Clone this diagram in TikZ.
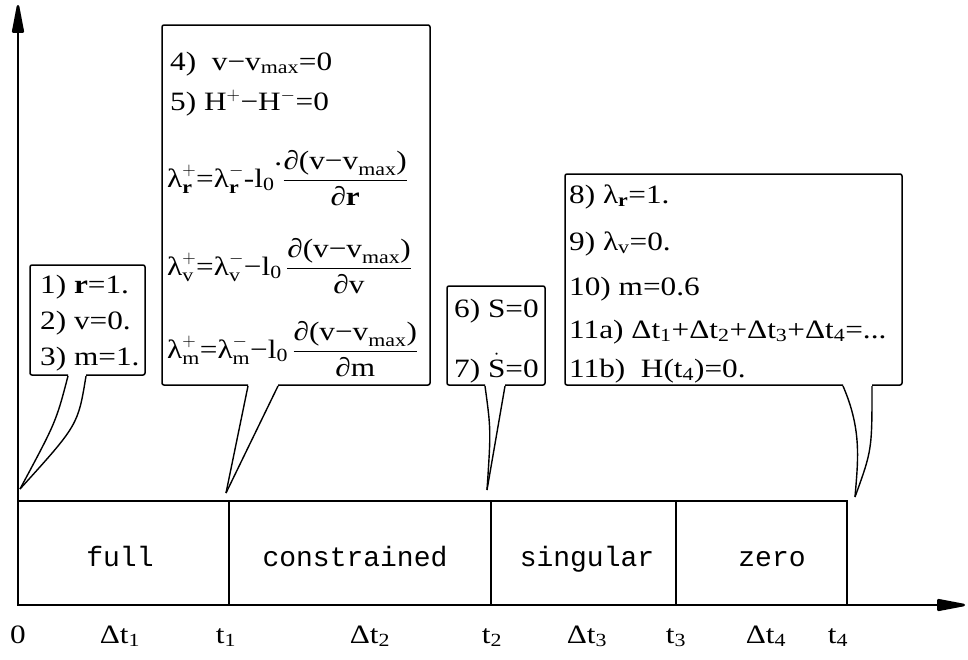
\RequirePackage{fix-cm}
\documentclass[tikz,border=0pt]{standalone}
\usepackage{amsmath}
\usepackage{fontspec}
\setmainfont{Liberation Serif}[FakeStretch=1.18]
\setmonofont{Liberation Mono}
\usetikzlibrary{arrows.meta}
\newcommand\T[1]{\text{#1}}
\newcommand\bfr{\T{\bfseries r}}
\begin{document}
\begin{tikzpicture}[x=1pt,y=-1pt,
  axis/.style={line width=2.6pt,-{Triangle[length=34pt,width=12pt,round]}},
  seg/.style={line width=1.8pt},
  callout/.style={line width=1.5pt,rounded corners=2pt},
  ptr/.style={line width=1.4pt},
  txt/.style={anchor=base west,inner sep=0pt,font=\fontsize{26.5}{30}\selectfont},
  lab/.style={anchor=base,inner sep=0pt,font=\fontsize{26.5}{30}\selectfont},
  mono/.style={anchor=base,inner sep=0pt,font=\fontsize{28}{30}\selectfont\ttfamily}]
\useasboundingbox (0,0) rectangle (968,659);
% axes
\coordinate (O) at (18,605);
\coordinate (Ytop) at (18,5);
\coordinate (Xend) at (965,605);
\draw[axis] (O) -- (Ytop);
\draw[axis] (O) -- (Xend);
% timeline
\draw[seg] (18,501) rectangle (847,605);
\draw[seg] (229,501) -- (229,605);
\draw[seg] (491,501) -- (491,605);
\draw[seg] (676,501) -- (676,605);
\node[mono] (full) at (120,566) {full};
\node[mono] (constr) at (355,566) {constrained};
\node[mono] (sing) at (587,566) {singular};
\node[mono] (zero) at (772,566) {zero};
% axis labels
\node[lab] (l0) at (18,643) {0};
\node[lab] (ld1) at (120,643) {Δt$_{\T{1}}$};
\node[lab] (lt1) at (226,643) {t$_{\T{1}}$};
\node[lab] (ld2) at (370,643) {Δt$_{\T{2}}$};
\node[lab] (lt2) at (492,643) {t$_{\T{2}}$};
\node[lab] (ld3) at (587,643) {Δt$_{\T{3}}$};
\node[lab] (lt3) at (676,643) {t$_{\T{3}}$};
\node[lab] (ld4) at (766,643) {Δt$_{\T{4}}$};
\node[lab] (lt4) at (838,643) {t$_{\T{4}}$};
% pointer tips
\coordinate (p0) at (20,489);
\coordinate (p1) at (226,493);
\coordinate (p2) at (487,490);
\coordinate (p4) at (855,497);
% callout 1
\draw[callout] (68,375) -- (30,375) -- (30,265) -- (145,265) -- (145,375) -- (86,375);
\draw[ptr] (68,376) .. controls (56,422) .. (p0);
\draw[ptr] (86,376) .. controls (78,425) .. (p0);
\node[txt] (c1a) at (40,293) {1) \textbf{r}=1.};
\node[txt] (c1b) at (40,329) {2) v=0.};
\node[txt] (c1c) at (40,365) {3) m=1.};
% callout 2
\draw[callout] (248,385) -- (162,385) -- (162,25) -- (430,25) -- (430,385) -- (278,385);
\draw[ptr] (248,386) -- (p1);
\draw[ptr] (278,386) -- (p1);
\node[txt] (c2a) at (170,70) {4)\ \ v−v$_{\T{max}}$=0};
\node[txt] (c2b) at (170,110) {5) H$^{+}$−H$^{-}$=0};
\node[txt] (c2c) at (167,187) {$\T{λ}^{+}_{\bfr}\T{=λ}^{-}_{\bfr}\T{-l}_{\T{0}}\raisebox{0.8em}{\T{.}}\dfrac{\T{∂(v−v}_{\T{max}}\T{)}}{\T{∂}\bfr}$};
\node[txt] (c2d) at (167,275) {$\T{λ}^{+}_{\T{v}}\T{=λ}^{-}_{\T{v}}\T{−l}_{\T{0}}\,\dfrac{\T{∂(v−v}_{\T{max}}\T{)}}{\T{∂v}}$};
\node[txt] (c2e) at (167,358) {$\T{λ}^{+}_{\T{m}}\T{=λ}^{-}_{\T{m}}\T{−l}_{\T{0}}\,\dfrac{\T{∂(v−v}_{\T{max}}\T{)}}{\T{∂m}}$};
% callout 3
\draw[callout] (485,385) -- (447,385) -- (447,286) -- (545,286) -- (545,385) -- (505,385);
\draw[ptr] (485,386) .. controls (491,430) .. (p2);
\draw[ptr] (505,386) -- (p2);
\node[txt] (c3a) at (454,317) {6) S=0};
\node[txt] (c3b) at (454,377) {7) $\dot{\T{S}}$=0};
% callout 4
\draw[callout] (843,385) -- (565,385) -- (565,174) -- (902,174) -- (902,385) -- (872,385);
\draw[ptr] (843,386) .. controls (862,430) and (858,460) .. (p4);
\draw[ptr] (872,386) .. controls (872,450) .. (p4);
\node[txt] (c4a) at (569,203) {8) λ$_{\bfr}$=1.};
\node[txt] (c4b) at (569,250) {9) λ$_{\T{v}}$=0.};
\node[txt] (c4c) at (569,295) {10) m=0.6};
\node[txt] (c4d) at (569,338) {11a) Δt$_{\T{1}}$+Δt$_{\T{2}}$+Δt$_{\T{3}}$+Δt$_{\T{4}}$=...};
\node[txt] (c4e) at (569,377) {11b)\ \ H(t$_{\T{4}}$)=0.};
\end{tikzpicture}
\end{document}
